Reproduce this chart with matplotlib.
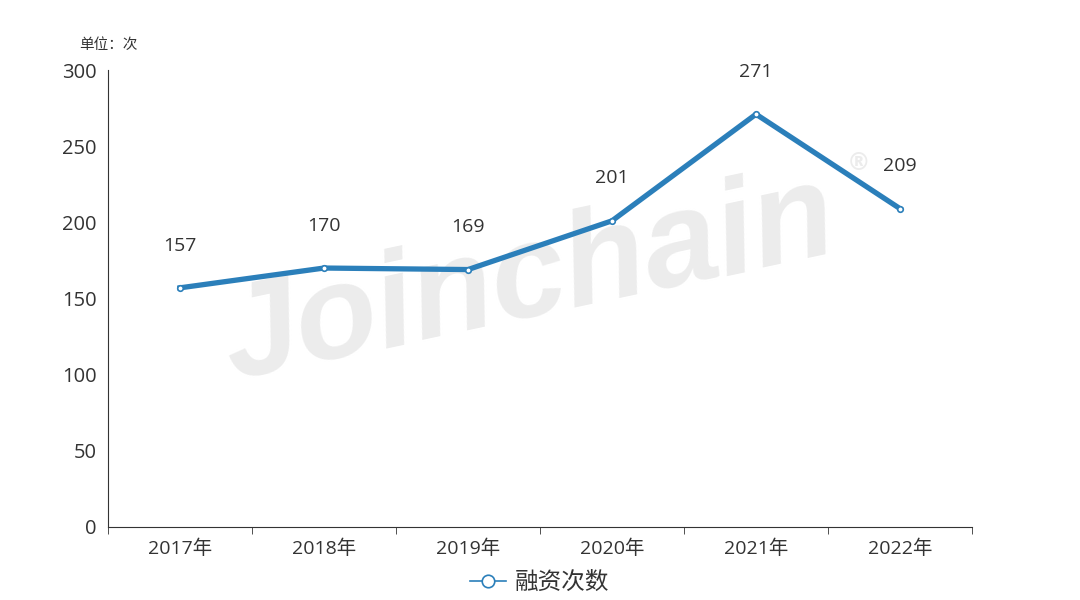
import matplotlib.pyplot as plt
from matplotlib.lines import Line2D

plt.rcParams['font.family'] = ['Open Sans', 'Noto Sans CJK SC', 'DejaVu Sans']

years = ['2017年', '2018年', '2019年', '2020年', '2021年', '2022年']
counts = [157, 170, 169, 201, 271, 209]
yticks = [0, 50, 100, 150, 200, 250, 300]

line_color = '#2b7fba'
text_color = '#333333'

fig = plt.figure(figsize=(10.8, 6), dpi=100)
ax = fig.add_axes([0.1, 0.1217, 0.8, 0.7616])
ax.patch.set_alpha(0)

x = list(range(len(years)))
ax.plot(x, counts, color=line_color, lw=3.8, marker='o', ms=4,
        mfc='white', mec=line_color, mew=1.2, zorder=3)
for xi, v in zip(x, counts):
    ax.annotate(str(v), (xi, v), xytext=(0, 24), textcoords='offset points',
                ha='center', va='bottom', fontsize=14, color=text_color)

ax.set_xlim(-0.5, len(years) - 0.5)
ax.set_ylim(0, 300)
ax.set_yticks(yticks)
ax.set_xticks(x)
ax.set_xticklabels(years)
ax.set_xticks([i - 0.5 for i in range(len(years) + 1)], minor=True)
ax.tick_params(axis='x', which='major', length=0, pad=9, labelsize=14, labelcolor=text_color)
ax.tick_params(axis='x', which='minor', length=5, direction='out', color='#333333')
ax.tick_params(axis='y', length=0, pad=8, labelsize=14.5, labelcolor=text_color)
for s in ['top', 'right']:
    ax.spines[s].set_visible(False)
ax.spines['left'].set_color('#333333')
ax.spines['bottom'].set_color('#333333')

fig.text(0.073, 0.912, '单位：次', fontsize=10.5, color=text_color, ha='left', va='bottom')

# watermark
ax.text(0.49, 0.53, 'Joinchain', transform=fig.transFigure, fontsize=96, fontweight='bold',
        style='italic', color='#ececec', rotation=12, ha='center', va='center',
        family='Liberation Sans', zorder=0)
ax.text(0.795, 0.728, '®', transform=fig.transFigure, fontsize=17, fontweight='bold',
        color='#ececec', ha='center', va='center', family='DejaVu Sans', zorder=0)

handle = Line2D([], [], color=line_color, lw=1.2, marker='o', ms=9, mfc='white',
                mec=line_color, mew=1.2)
fig.legend([handle], ['融资次数'], loc='lower center', bbox_to_anchor=(0.5, -0.027),
           frameon=False, fontsize=17, handlelength=1.5, handletextpad=0.4,
           labelcolor=text_color)

fig.savefig('out.png', dpi=100)
